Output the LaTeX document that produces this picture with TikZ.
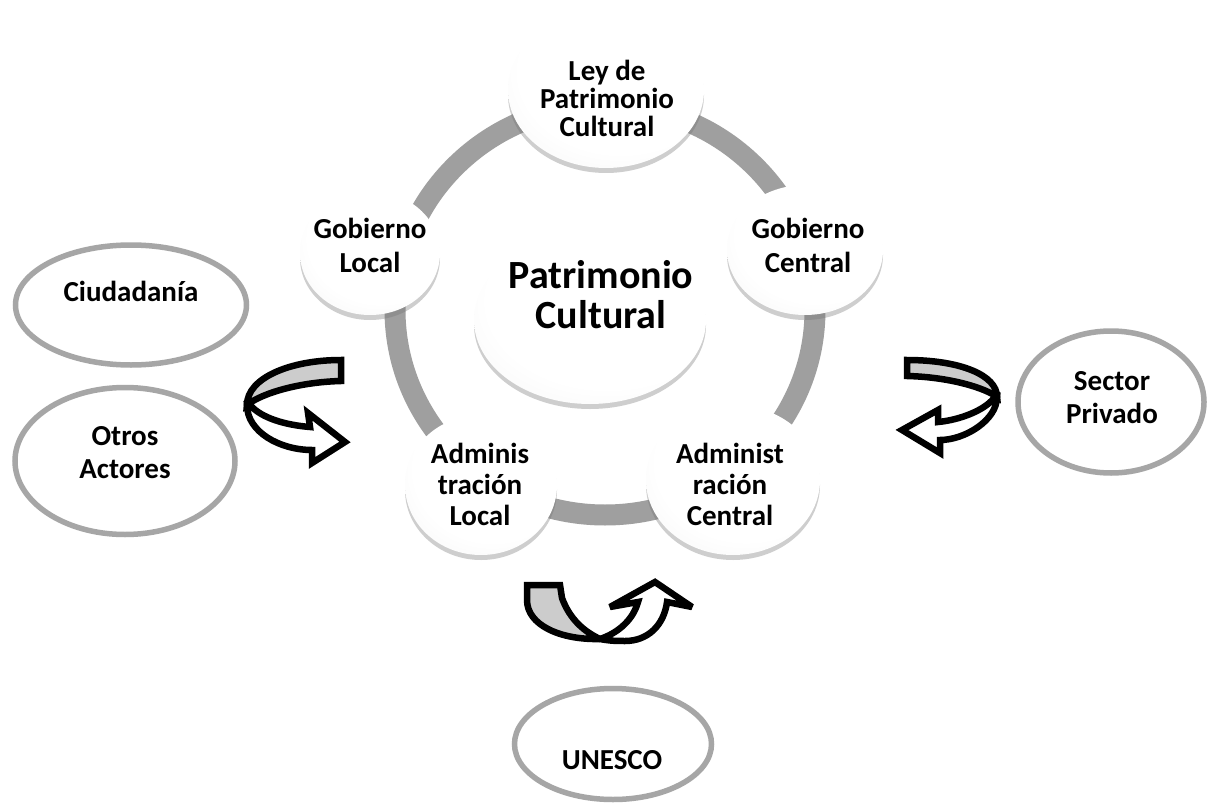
\documentclass[tikz,border=0pt]{standalone}
\usepackage{fontspec}
\setmainfont{Carlito}
\usetikzlibrary{shapes.geometric,shadows}
\pgfdeclareradialshading{ballshade}{\pgfpoint{8bp}{12bp}}{color(0bp)=(white); color(26bp)=(white); color(42bp)=(black!5); color(50bp)=(black!18)}
\begin{document}
\begin{tikzpicture}[x=1pt,y=-1pt,
  ball/.style={ellipse, draw=none, shading=ballshade, inner sep=0pt,
    drop shadow={shadow xshift=0pt, shadow yshift=-5pt, opacity=0.35, fill=black!55}},
  balltext/.style={font=\bfseries\fontsize{30}{31}\selectfont, align=center, inner sep=0pt},
  actor/.style={ellipse, draw=gray!70, line width=5.5pt, fill=white, inner sep=0pt},
  actortext/.style={font=\bfseries\fontsize{29}{33}\selectfont, align=center, inner sep=0pt},
  ringline/.style={draw=gray!75, line width=21pt},
  bandgray/.style={fill=gray!40, draw=black, line width=6.5pt, line join=miter, miter limit=3},
  bandwhite/.style={fill=white, draw=black, line width=6.5pt, line join=miter, miter limit=3}]

\useasboundingbox (0,0) rectangle (1209,805);
\fill[white] (0,0) rectangle (1209,805);

% ring
\draw[ringline] (605,310) ellipse [x radius=210, y radius=205];

% balls
\node[ball, minimum width=196pt, minimum height=156pt] (ley) at (606,90) {};
\node[ball, minimum width=140pt, minimum height=124pt] (gl) at (370,253) {};
\node[ball, minimum width=156pt, minimum height=130pt] (gc) at (805,250) {};
\node[ball, minimum width=232pt, minimum height=168pt] (pc) at (590,320) {};
\node[ball, minimum width=152pt, minimum height=140pt] (al) at (481,485) {};
\node[ball, minimum width=174pt, minimum height=150pt] (ac) at (733,480) {};

\node[balltext, font=\bfseries\fontsize{29}{28}\selectfont] (leyt) at (607,98) {Ley de\\Patrimonio\\Cultural};
\node[balltext, font=\bfseries\fontsize{29}{34}\selectfont] (glt) at (370,245) {Gobierno\\Local};
\node[balltext, font=\bfseries\fontsize{29}{34}\selectfont] (gct) at (808,245) {Gobierno\\Central};
\node[balltext, font=\bfseries\fontsize{40}{40}\selectfont] (pct) at (601,295) {Patrimonio\\Cultural};
\node[balltext, font=\bfseries\fontsize{29}{31}\selectfont] (alt) at (480,484) {Adminis\\tración\\Local};
\node[balltext, font=\bfseries\fontsize{29}{31}\selectfont] (act) at (730,484) {Administ\\ración\\Central};

% actors
\node[actor, minimum width=231pt, minimum height=120pt] (ciu) at (131,305) {};
\node[actortext] (ciut) at (131,291) {Ciudadanía};
\node[actor, minimum width=220pt, minimum height=147pt] (otr) at (125,461) {};
\node[actortext] (otrt) at (125,453) {Otros\\Actores};
\node[actor, minimum width=186pt, minimum height=142pt] (sec) at (1111,402) {};
\node[actortext] (sect) at (1112,398) {Sector\\Privado};
\node[actor, minimum width=197pt, minimum height=111pt] (une) at (613,744) {};
\node[actortext] (unet) at (612,760) {UNESCO};

% left curved arrow
\draw[bandwhite] (247,405) .. controls (247,432) and (280,450) .. (312,450) -- (312,463) -- (345,442) -- (308,413) -- (310,427) .. controls (285,425) and (262,418) .. (251,406) -- cycle;
\draw[bandgray] (341,360) .. controls (290,360) and (247,378) .. (247,405) .. controls (262,393) and (300,382) .. (341,381) -- cycle;

% right curved arrow
\draw[bandwhite] (997,397) .. controls (997,420) and (965,440) .. (940,440) -- (940,453) -- (902,430) -- (938,410) -- (938,422) .. controls (960,420) and (985,410) .. (994,398) -- cycle;
\draw[bandgray] (907,360) .. controls (960,360) and (997,375) .. (997,397) .. controls (985,388) and (950,377) .. (907,376) -- cycle;

% bottom curved arrow
\draw[bandwhite] (600,639) .. controls (610,641) and (618,641) .. (625,641) .. controls (648,641) and (664,625) .. (667,602) -- (692,607) -- (655,582) -- (610,607) -- (638,602) .. controls (633,620) and (618,633) .. (600,639) -- cycle;
\draw[bandgray] (527,585) -- (560,585) -- (562,598) .. controls (570,620) and (585,632) .. (600,639) .. controls (560,640) and (527,625) .. (527,600) -- cycle;

\end{tikzpicture}
\end{document}
